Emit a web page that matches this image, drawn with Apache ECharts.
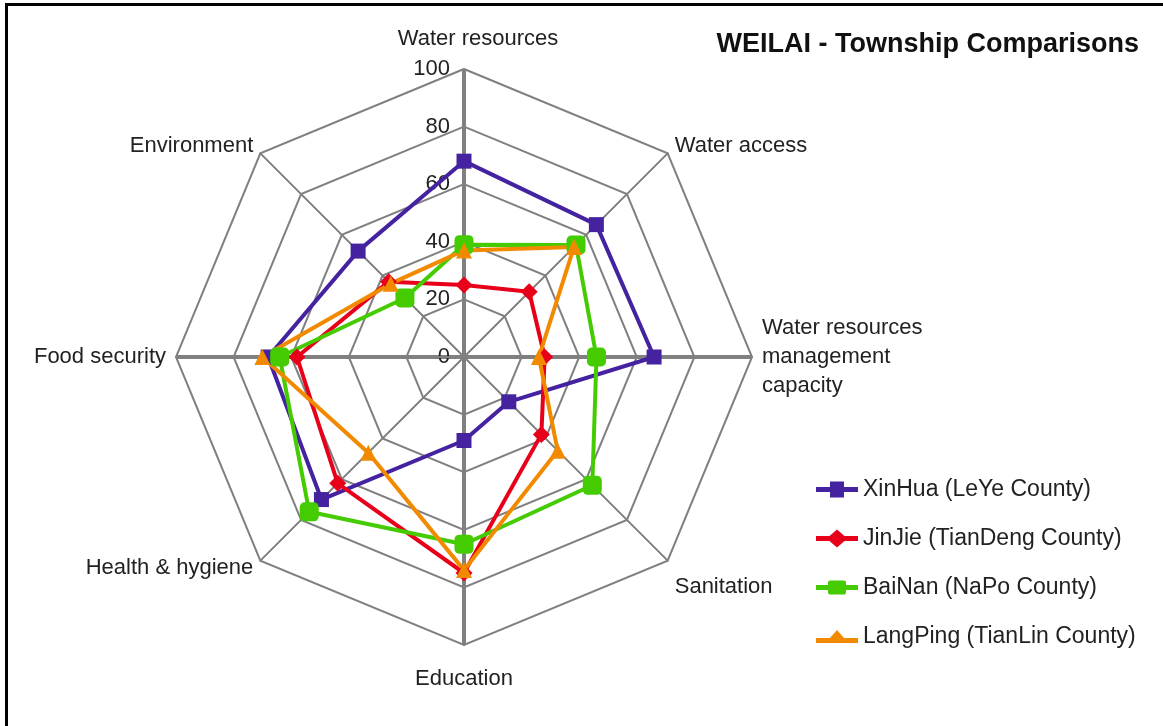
<!DOCTYPE html>
<html>
<head>
<meta charset="utf-8">
<title>WEILAI - Township Comparisons</title>
<script src="https://cdn.jsdelivr.net/npm/echarts@6/dist/echarts.min.js"></script>
<style>
  html, body { margin: 0; padding: 0; background: #fff; }
  #chart { width: 1163px; height: 726px; }
  #frame { position: absolute; left: 5px; top: 3px; right: 0; bottom: 0;
           border-left: 3px solid #000; border-top: 3px solid #000; pointer-events: none; }
</style>
</head>
<body>
<div id="chart"></div>
<div id="frame"></div>
<script>
// axes, clockwise from the top
const axisNames = [
  'Water resources',
  'Water access',
  'Water resources\nmanagement\ncapacity',
  'Sanitation',
  'Education',
  'Health & hygiene',
  'Food security',
  'Environment'
];
const tickValues = [0, 20, 40, 60, 80, 100];

const townships = [
  'XinHua (LeYe County)',
  'JinJie (TianDeng County)',
  'BaiNan (NaPo County)',
  'LangPing (TianLin County)'
];
const xinhua   = [68, 65, 66, 22, 29, 70, 68, 52];
const jinjie   = [25, 32, 28, 38, 75, 62, 58, 37];
const bainan   = [39, 55, 46, 63, 65, 76, 64, 29];
const langping = [37, 54, 26, 46, 74, 47, 70, 36];

const colors  = ['#4422a0', '#e8001a', '#44cc00', '#f28a00'];
const symbols = ['rect', 'diamond', 'roundRect', 'triangle'];
const symSize = [15, 17, 19, 16];

// legend keys: a short line with the marker in the middle (42 x 20 box)
const legendIcons = [
  'path://M0,7.5H14V2H28V7.5H42V12.5H28V18H14V12.5H0Z',
  'path://M0,7.5H13.5L21,1L28.5,7.5H42V12.5H28.5L21,19L13.5,12.5H0Z',
  'path://M0,7.5H12V5Q12,3 14,3H28Q30,3 30,5V7.5H42V12.5H30V15Q30,17 28,17H14Q12,17 12,15V12.5H0Z',
  'path://M0,8H14L21,0L28,8H42V13H0Z'
];

// echarts lays radar indicators out counter-clockwise, so flip the order
const order = [0, 7, 6, 5, 4, 3, 2, 1];
const reorder = arr => order.map(i => arr[i]);

// a few names sit further from the web than the others
const namePlace = {
  'Water resources': 'top',
  'Education': 'bottom',
  'Sanitation': 'lowright'
};

const chart = echarts.init(document.getElementById('chart'));
const font = '"Liberation Sans", Arial, Helvetica, sans-serif';
const center = [464, 357];
const radius = 288;

const option = {
  animation: false,
  textStyle: { fontFamily: font },
  title: {
    text: 'WEILAI - Township Comparisons',
    right: 19,
    top: 26,
    textStyle: { fontSize: 27, fontWeight: 'bold', color: '#111', fontFamily: font }
  },
  legend: {
    orient: 'vertical',
    left: 811,
    top: 473,
    itemWidth: 42,
    itemHeight: 20,
    itemGap: 26,
    data: townships.map((n, k) => ({ name: n, icon: legendIcons[k] })),
    textStyle: { fontSize: 23, color: '#222', fontFamily: font }
  },
  polar: { center: center, radius: radius },
  angleAxis: {
    type: 'value',
    min: 0,
    max: 360,
    interval: 90,
    startAngle: 90,
    axisLine: { show: false },
    axisTick: { show: false },
    axisLabel: { show: false },
    splitLine: { show: true, lineStyle: { color: '#808080', width: 4 } }
  },
  radiusAxis: {
    min: tickValues[0],
    max: tickValues[tickValues.length - 1],
    interval: tickValues[1] - tickValues[0],
    axisLine: { show: false },
    axisTick: { show: false },
    splitLine: { show: false },
    axisLabel: { show: true, fontSize: 22, color: '#222', margin: 14, fontFamily: font }
  },
  radar: {
    center: center,
    radius: radius,
    shape: 'polygon',
    splitNumber: 5,
    nameGap: 10,
    indicator: reorder(axisNames).map(n => ({ name: n, min: 0, max: 100 })),
    axisName: {
      color: '#222',
      fontSize: 22,
      lineHeight: 29,
      fontFamily: font,
      formatter: v => namePlace[v] ? '{' + namePlace[v] + '|' + v + '}' : v,
      rich: {
        top: { fontSize: 22, color: '#222', padding: [0, 0, 12, 28] },
        bottom: { fontSize: 22, color: '#222', padding: [18, 0, 0, 0] },
        lowright: { fontSize: 22, color: '#222', padding: [38, 0, 0, 0] }
      }
    },
    axisLine: { lineStyle: { color: '#808080', width: 2 } },
    splitLine: { lineStyle: { color: '#808080', width: 2 } },
    splitArea: { show: false },
    z: 1
  },
  series: [xinhua, jinjie, bainan, langping].map((vals, k) => ({
    type: 'radar',
    name: townships[k],
    z: 5,
    color: colors[k],
    symbol: symbols[k],
    symbolSize: symSize[k],
    lineStyle: { color: colors[k], width: 4 },
    itemStyle: { color: colors[k] },
    data: [{ name: townships[k], value: reorder(vals) }]
  }))
};

chart.setOption(option);
</script>
</body>
</html>
